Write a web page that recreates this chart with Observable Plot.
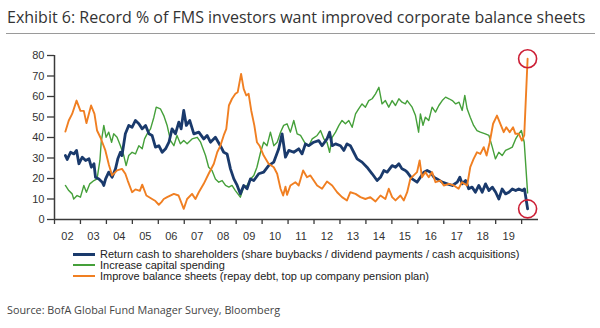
<!DOCTYPE html>
<html><head><meta charset="utf-8">
<script src="https://cdn.jsdelivr.net/npm/d3@7"></script>
<script src="https://cdn.jsdelivr.net/npm/@observablehq/plot@0.6"></script>
<style>
body{margin:0;background:#fff;width:600px;height:328px;position:relative;overflow:hidden}
#title{position:absolute;left:7px;top:6px;font:16px "Open Sans";color:#333;white-space:nowrap}
#rule{position:absolute;left:6px;top:33px;width:589px;height:1px;background:#9a9a9a}
#chart{position:absolute;left:0;top:35px}
#legend{position:absolute;left:73px;top:249px;font:11px "Liberation Sans",Arial,sans-serif;color:#222}
.item{display:flex;align-items:center;height:10.8px;white-space:nowrap}
.sw{width:22px;margin-right:5px}
#source{position:absolute;left:7px;top:302px;font:10.8px "Open Sans";color:#444;white-space:nowrap}
</style>
</head><body>
<div id="title">Exhibit 6: Record % of FMS investors want improved corporate balance sheets</div>
<div id="rule"></div>
<div id="chart"></div>
<div id="legend"></div>
<div id="source">Source: BofA Global Fund Manager Survey, Bloomberg</div>
<script>
const seriesNames = [
  "Return cash to shareholders (share buybacks / dividend payments / cash acquisitions)",
  "Increase capital spending",
  "Improve balance sheets (repay debt, top up company pension plan)"
];
const seriesColors = ["#1a3a6c", "#45a03a", "#f07f22"];

const xLabels = ["02","03","04","05","06","07","08","09","10","11","12","13","14","15","16","17","18","19"];
const yTicks = [0,10,20,30,40,50,60,70,80];

const returnYears = [2002.42,2002.49,2002.62,2002.75,2002.85,2002.94,2003.07,2003.2,2003.33,2003.42,2003.52,2003.58,2003.71,2003.84,2003.9,2003.97,2004.09,2004.22,2004.35,2004.44,2004.54,2004.6,2004.73,2004.86,2004.99,2005.12,2005.25,2005.38,2005.51,2005.64,2005.76,2005.89,2006.02,2006.15,2006.28,2006.41,2006.53,2006.66,2006.79,2006.88,2006.98,2007.08,2007.21,2007.37,2007.56,2007.75,2007.88,2008.01,2008.2,2008.39,2008.52,2008.65,2008.78,2008.91,2009.04,2009.16,2009.29,2009.42,2009.55,2009.68,2009.87,2010.06,2010.25,2010.45,2010.64,2010.77,2010.9,2011.03,2011.22,2011.41,2011.54,2011.67,2011.8,2011.99,2012.18,2012.31,2012.5,2012.6,2012.7,2012.83,2013.02,2013.15,2013.27,2013.4,2013.53,2013.66,2013.85,2014.04,2014.24,2014.43,2014.56,2014.69,2014.82,2015.01,2015.14,2015.27,2015.39,2015.52,2015.59,2015.78,2015.97,2016.1,2016.23,2016.36,2016.49,2016.62,2016.74,2016.94,2017.13,2017.33,2017.52,2017.62,2017.71,2017.84,2017.96,2018.09,2018.22,2018.35,2018.48,2018.61,2018.74,2018.87,2019.0,2019.12,2019.25,2019.38,2019.51,2019.64,2019.77,2019.89,2020.02,2020.11,2020.23];
const returnValues = [31.2,29.3,32.8,32,33.7,27.2,30.4,28.8,29.6,25.5,27.2,20.6,19.8,18.2,16.6,19.8,23.1,20.6,24.7,29.6,32.8,31.2,41.8,45.9,45,48.3,46.7,44.2,45.9,41.8,41,35.3,36,32.8,34.5,37.7,44.2,41.8,47.5,44.2,53.2,45.9,48.3,41.8,42.6,39.3,41,37.7,40.1,36,32.8,32,24.7,19.8,16.6,12.5,16.6,15,19.8,19,22.3,23.1,26.3,28,34.5,41.8,30.4,33.7,32.8,34.5,32,36.9,36,37.7,38.5,36,39.3,42.6,36,36.9,36,33.7,36.9,36,32.8,29.6,28,25.5,22.3,19,20.6,23.9,23.1,26.3,25.5,27.2,24.7,23.9,23.1,19.8,18.2,20.6,23.1,23.9,23.1,20.6,19.8,18.2,17.4,16.6,18.2,20.6,17.4,19,15,15.8,13.3,16.6,13.3,17.4,14.1,15.8,13.3,10,14.9,12.5,13.3,14.9,14.1,14.9,14.1,14.9,5.2];

const capexYears = [2002.42,2002.55,2002.68,2002.74,2002.87,2003.0,2003.13,2003.23,2003.36,2003.52,2003.64,2003.75,2003.8,2003.9,2003.99,2004.09,2004.2,2004.28,2004.41,2004.54,2004.67,2004.76,2004.86,2004.99,2005.12,2005.25,2005.38,2005.47,2005.57,2005.7,2005.83,2005.92,2006.08,2006.21,2006.34,2006.47,2006.6,2006.72,2006.85,2006.98,2007.11,2007.3,2007.5,2007.63,2007.82,2007.94,2008.07,2008.2,2008.33,2008.46,2008.59,2008.72,2008.84,2008.97,2009.16,2009.29,2009.42,2009.55,2009.68,2009.8,2009.94,2010.06,2010.19,2010.32,2010.45,2010.58,2010.71,2010.83,2010.96,2011.09,2011.22,2011.35,2011.48,2011.67,2011.8,2011.93,2012.12,2012.25,2012.38,2012.5,2012.6,2012.7,2012.83,2012.96,2013.08,2013.21,2013.34,2013.47,2013.6,2013.72,2013.85,2013.98,2014.11,2014.24,2014.37,2014.5,2014.62,2014.75,2014.88,2015.01,2015.14,2015.27,2015.39,2015.52,2015.59,2015.78,2015.91,2016.03,2016.1,2016.2,2016.29,2016.42,2016.55,2016.68,2016.81,2016.94,2017.07,2017.2,2017.33,2017.46,2017.59,2017.71,2017.81,2017.9,2018.02,2018.15,2018.28,2018.41,2018.6,2018.74,2018.87,2018.99,2019.12,2019.25,2019.38,2019.51,2019.64,2019.77,2019.89,2019.99,2020.1,2020.23];
const capexValues = [16.6,14.1,12.5,10,11.7,10.9,16.6,13.3,17.4,19,19.8,28.8,37.7,45.9,40.1,42.6,37.7,41.8,40.1,36,31.2,26.3,31.2,32.8,32,36,34.5,39.3,41.8,44.2,49.9,54.8,54,50.7,45.9,38.5,36,41,36.9,38.5,36.9,39.3,40.1,37.7,31.2,25.5,23.9,19.8,18.2,19,16.6,15.8,16.6,14.1,10.9,15.8,16.6,19.8,21.5,25.5,32.8,37.7,36,42.6,36,37.7,42.6,45.9,46.7,42.6,48.3,41.8,41,36.9,36,39.3,41,43.4,39.3,37.7,32.8,40.1,42.6,45.9,48.3,46.7,48.3,45,51.5,54,56.4,54.8,58,58.9,61.3,64.5,56.4,58,54.8,58,55.6,58.9,57.2,56.4,58,54.8,50.7,42.6,51.5,45.9,49.9,48.3,54.8,52.4,55.6,58,59.7,58.9,58,56.4,57.2,53.2,60.5,54,49.9,45.9,43.4,42.6,41.8,41,35.3,29.6,32.8,31.2,33.7,34.5,35.3,39.3,41.8,43.4,37.7,13];

const balanceYears = [2002.42,2002.55,2002.68,2002.85,2003.0,2003.13,2003.23,2003.41,2003.54,2003.64,2003.77,2003.96,2004.09,2004.22,2004.41,2004.6,2004.73,2004.82,2004.99,2005.12,2005.29,2005.38,2005.54,2005.76,2005.89,2006.02,2006.12,2006.21,2006.34,2006.6,2006.78,2006.98,2007.11,2007.3,2007.43,2007.56,2007.75,2007.94,2008.14,2008.27,2008.39,2008.52,2008.62,2008.72,2008.84,2008.97,2009.06,2009.19,2009.29,2009.39,2009.48,2009.58,2009.7,2009.8,2009.9,2010.06,2010.25,2010.45,2010.58,2010.71,2010.81,2010.9,2010.96,2011.09,2011.28,2011.41,2011.58,2011.73,2011.86,2011.99,2012.12,2012.31,2012.5,2012.7,2012.89,2013.08,2013.27,2013.4,2013.6,2013.79,2013.98,2014.17,2014.37,2014.56,2014.75,2014.88,2015.01,2015.14,2015.33,2015.46,2015.59,2015.71,2015.84,2015.97,2016.07,2016.16,2016.29,2016.42,2016.55,2016.68,2016.87,2017.0,2017.2,2017.39,2017.57,2017.7,2017.9,2018.02,2018.15,2018.28,2018.41,2018.54,2018.65,2018.77,2018.9,2019.05,2019.18,2019.31,2019.41,2019.54,2019.67,2019.76,2019.89,2020.01,2020.1,2020.23];
const balanceValues = [42.9,48.3,51.5,58,53,53,47,55.6,51.5,43.4,40,33.7,27,21.5,24,24.7,22.3,19,13.3,14.7,14,17,11.7,10,9,7.2,8.5,10,10.9,12.5,11.7,5.2,10,12.5,10,13.3,17.4,22.3,27.2,32.8,35.9,41,44.2,55.6,58.9,61.3,62.1,71,63.7,60.5,61.3,53.2,45.9,37.7,36,31.2,27.2,25.5,22.3,15,11.7,16,12,16.6,18.2,16.6,23.9,20.6,21.5,19,16.6,15,18.5,16.6,13.3,10.9,9.3,13.3,12.5,10.9,10,10.9,8.8,11.7,10,15,10.9,9.3,11.7,9.3,13.3,19.8,21.5,23.1,28.8,20.6,23.1,20.6,23.1,18.2,19,16.6,17.4,16.6,15,18.2,16.6,25.5,29.6,32.8,32,35.3,31.2,37.7,46.7,50.7,46.7,42.6,45,42.6,45,41.8,41.8,38.5,41,78.4];

const toRows = (ys, vs) => ys.map((x, i) => ({x, y: vs[i]}));
const rows = [toRows(returnYears, returnValues), toRows(capexYears, capexValues), toRows(balanceYears, balanceValues)];
const lastPoints = [rows[2][rows[2].length - 1], rows[0][rows[0].length - 1]];

const firstYear = 2002;
const boundaries = d3.range(firstYear, firstYear + xLabels.length + 1);
const mids = xLabels.map((_, i) => firstYear + i + 0.5);
const axisColor = "#3a3a3a";

const chart = Plot.plot({
  width: 600, height: 215,
  marginLeft: 54, marginRight: 62, marginTop: 20, marginBottom: 31,
  x: {domain: [2002, 2020.65]},
  y: {domain: [0, 80]},
  style: {fontFamily: '"Liberation Sans", Arial, sans-serif', fontSize: "11px", color: "#333", background: "transparent"},
  marks: [
    Plot.axisY({ticks: yTicks, tickSize: 7, tickPadding: 3, stroke: axisColor, strokeWidth: 1.3, strokeOpacity: 1, fill: "#333", label: null}),
    Plot.axisX({ticks: boundaries, tickSize: 5, stroke: axisColor, strokeWidth: 1.3, strokeOpacity: 1, tickFormat: () => "", label: null}),
    Plot.axisX({ticks: mids, tickSize: 0, tickPadding: 13, fill: "#333", tickFormat: (d) => xLabels[Math.round(d - 0.5) - firstYear], label: null}),
    Plot.ruleX([2002], {stroke: axisColor, strokeWidth: 1.5}),
    Plot.ruleY([0], {stroke: axisColor, strokeWidth: 1.5}),
    Plot.line(rows[1], {x: "x", y: "y", stroke: seriesColors[1], strokeWidth: 1.4, strokeLinejoin: "round"}),
    Plot.line(rows[0], {x: "x", y: "y", stroke: seriesColors[0], strokeWidth: 2.8, strokeLinejoin: "round"}),
    Plot.line(rows[2], {x: "x", y: "y", stroke: seriesColors[2], strokeWidth: 1.9, strokeLinejoin: "round"}),
    Plot.dot(lastPoints, {x: "x", y: "y", r: 9, stroke: "#cc1f36", strokeWidth: 1.6, fill: "none"})
  ]
});
document.getElementById("chart").append(chart);

const legend = document.getElementById("legend");
const widths = [3, 2, 2];
seriesNames.forEach((name, i) => {
  const item = document.createElement("div");
  item.className = "item";
  const sw = document.createElement("span");
  sw.className = "sw";
  sw.style.height = widths[i] + "px";
  sw.style.background = seriesColors[i];
  const t = document.createElement("span");
  t.textContent = name;
  item.append(sw, t);
  legend.append(item);
});
</script>
</body></html>
